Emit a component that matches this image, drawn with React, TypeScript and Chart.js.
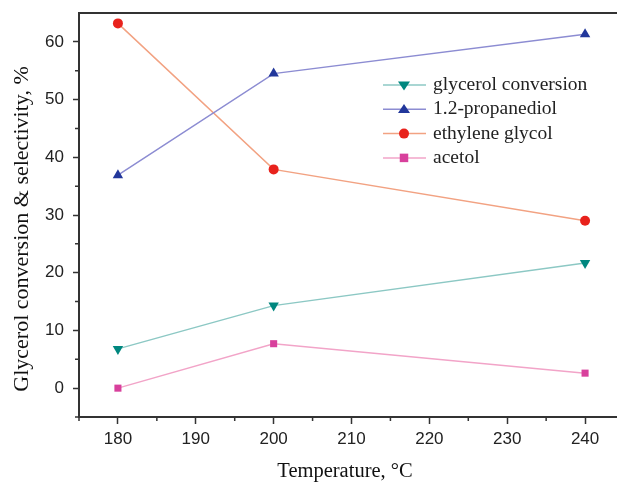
import React, { useEffect, useRef } from "react";
import { Chart, registerables } from "chart.js";

Chart.register(...registerables);

const temperatures = [180, 200, 240];
const glycerolConversion = [6.8, 14.3, 21.7];
const propanediol = [36.9, 54.5, 61.3];
const ethyleneGlycol = [63.2, 37.9, 29.0];
const acetol = [0.0, 7.7, 2.6];

const seriesNames = ["glycerol conversion", "1.2-propanediol", "ethylene glycol", "acetol"];
const xTickValues = [180, 190, 200, 210, 220, 230, 240];
const xMinorTicks = [175, 185, 195, 205, 215, 225, 235];
const yTickValues = [0, 10, 20, 30, 40, 50, 60];
const yMinorTicks = [-5, 5, 15, 25, 35, 45, 55];
const xTitle = "Temperature, °C";
const yTitle = "Glycerol conversion & selectivity, %";

const markerColors = ["#00877f", "#22379b", "#e8221c", "#d8409c"];
const lineColors = ["#8cc8c4", "#8c8cd2", "#f2a282", "#f2a4c8"];
const pointStyles = ["triangle", "triangle", "circle", "rect"];
const rotations = [180, 0, 0, 0];
const radii = [6, 6, 5, 5];

const AXIS = "#333333";
const SERIF = "'Liberation Serif', 'DejaVu Serif', serif";

function drawMarker(ctx: CanvasRenderingContext2D, i: number, x: number, y: number) {
  ctx.save();
  ctx.fillStyle = markerColors[i];
  ctx.beginPath();
  const r = radii[i];
  if (i === 0) {
    ctx.moveTo(x - r, y - r * 0.6);
    ctx.lineTo(x + r, y - r * 0.6);
    ctx.lineTo(x, y + r * 0.9);
  } else if (i === 1) {
    ctx.moveTo(x - r, y + r * 0.6);
    ctx.lineTo(x + r, y + r * 0.6);
    ctx.lineTo(x, y - r * 0.9);
  } else if (i === 2) {
    ctx.arc(x, y, r, 0, Math.PI * 2);
  } else {
    ctx.rect(x - r * 0.85, y - r * 0.85, r * 1.7, r * 1.7);
  }
  ctx.closePath();
  ctx.fill();
  ctx.restore();
}

const framePlugin = {
  id: "frame",
  afterDraw(chart: any) {
    const { ctx, chartArea } = chart;
    const xs = chart.scales.x;
    const ys = chart.scales.y;
    ctx.save();
    ctx.strokeStyle = AXIS;
    ctx.lineWidth = 2;
    ctx.strokeRect(chartArea.left, chartArea.top, chartArea.right - chartArea.left, chartArea.bottom - chartArea.top);
    ctx.lineWidth = 1.5;
    ctx.beginPath();
    for (const v of xMinorTicks) {
      const px = xs.getPixelForValue(v);
      ctx.moveTo(px, chartArea.bottom);
      ctx.lineTo(px, chartArea.bottom + 4);
    }
    for (const v of yMinorTicks) {
      const py = ys.getPixelForValue(v);
      ctx.moveTo(chartArea.left, py);
      ctx.lineTo(chartArea.left - 4, py);
    }
    ctx.stroke();

    // axis titles
    ctx.fillStyle = "#111111";
    ctx.textAlign = "center";
    ctx.textBaseline = "middle";
    ctx.font = `20.5px ${SERIF}`;
    ctx.fillText(xTitle, chartArea.left + 266, chartArea.bottom + 55);
    ctx.save();
    ctx.translate(22, chartArea.top + 216);
    ctx.rotate(-Math.PI / 2);
    ctx.font = `22px ${SERIF}`;
    ctx.fillText(yTitle, 0, 0);
    ctx.restore();

    // legend
    const lx = chartArea.left + 304;
    const ly = chartArea.top + 72;
    const rowH = 24.3;
    ctx.font = `19.5px ${SERIF}`;
    ctx.textBaseline = "middle";
    ctx.textAlign = "left";
    seriesNames.forEach((name, i) => {
      const y = ly + i * rowH;
      ctx.strokeStyle = lineColors[i];
      ctx.lineWidth = 1.5;
      ctx.beginPath();
      ctx.moveTo(lx, y);
      ctx.lineTo(lx + 43, y);
      ctx.stroke();
      drawMarker(ctx, i, lx + 21, y);
      ctx.fillStyle = "#222222";
      ctx.fillText(name, lx + 50, y);
    });
    ctx.restore();
  },
};

export default function App() {
  const ref = useRef<HTMLCanvasElement>(null);
  useEffect(() => {
    if (!ref.current) return;
    const allSeries = [glycerolConversion, propanediol, ethyleneGlycol, acetol];
    const chart = new Chart(ref.current, {
      type: "scatter",
      data: {
        datasets: allSeries.map((vals, i) => ({
          label: seriesNames[i],
          data: temperatures.map((t, k) => ({ x: t, y: vals[k] })),
          showLine: true,
          borderColor: lineColors[i],
          borderWidth: 1.5,
          backgroundColor: markerColors[i],
          pointBackgroundColor: markerColors[i],
          pointBorderColor: markerColors[i],
          pointBorderWidth: 0,
          pointStyle: pointStyles[i] as any,
          pointRotation: rotations[i],
          pointRadius: radii[i],
          order: i,
        })),
      },
      options: {
        animation: false,
        responsive: false,
        layout: { padding: { top: 13, right: 16, left: 0, bottom: 0 } },
        plugins: { legend: { display: false }, tooltip: { enabled: false } },
        scales: {
          x: {
            type: "linear",
            min: 175,
            max: 245,
            afterFit: (s: any) => { s.height = 69; s.paddingLeft = 0; s.paddingRight = 0; },
            afterBuildTicks: (s: any) => { s.ticks = xTickValues.map((v) => ({ value: v })); },
            grid: { drawOnChartArea: false, drawTicks: true, tickLength: 7, tickColor: AXIS, tickWidth: 1.5 },
            border: { display: false },
            ticks: {
              color: "#222222",
              font: { family: "'Liberation Sans', Arial, sans-serif", size: 17 },
              padding: 5,
              maxRotation: 0,
              autoSkip: false,
            },
            title: { display: false },
          },
          y: {
            type: "linear",
            min: -5,
            max: 65,
            afterFit: (s: any) => { s.width = 79; s.paddingTop = 0; s.paddingBottom = 0; },
            afterBuildTicks: (s: any) => { s.ticks = yTickValues.map((v) => ({ value: v })); },
            grid: { drawOnChartArea: false, drawTicks: true, tickLength: 6, tickColor: AXIS, tickWidth: 1.5 },
            border: { display: false },
            ticks: {
              color: "#222222",
              font: { family: "'Liberation Sans', Arial, sans-serif", size: 17 },
              padding: 9,
              autoSkip: false,
            },
            title: { display: false },
          },
        },
      },
      plugins: [framePlugin],
    });
    return () => chart.destroy();
  }, []);
  return (
    <div style={{ position: "fixed", left: 0, top: 0, width: 617, height: 486, overflow: "hidden", background: "#fff" }}>
      <canvas ref={ref} width={640} height={486} style={{ display: "block", width: 640, height: 486 }} />
    </div>
  );
}
